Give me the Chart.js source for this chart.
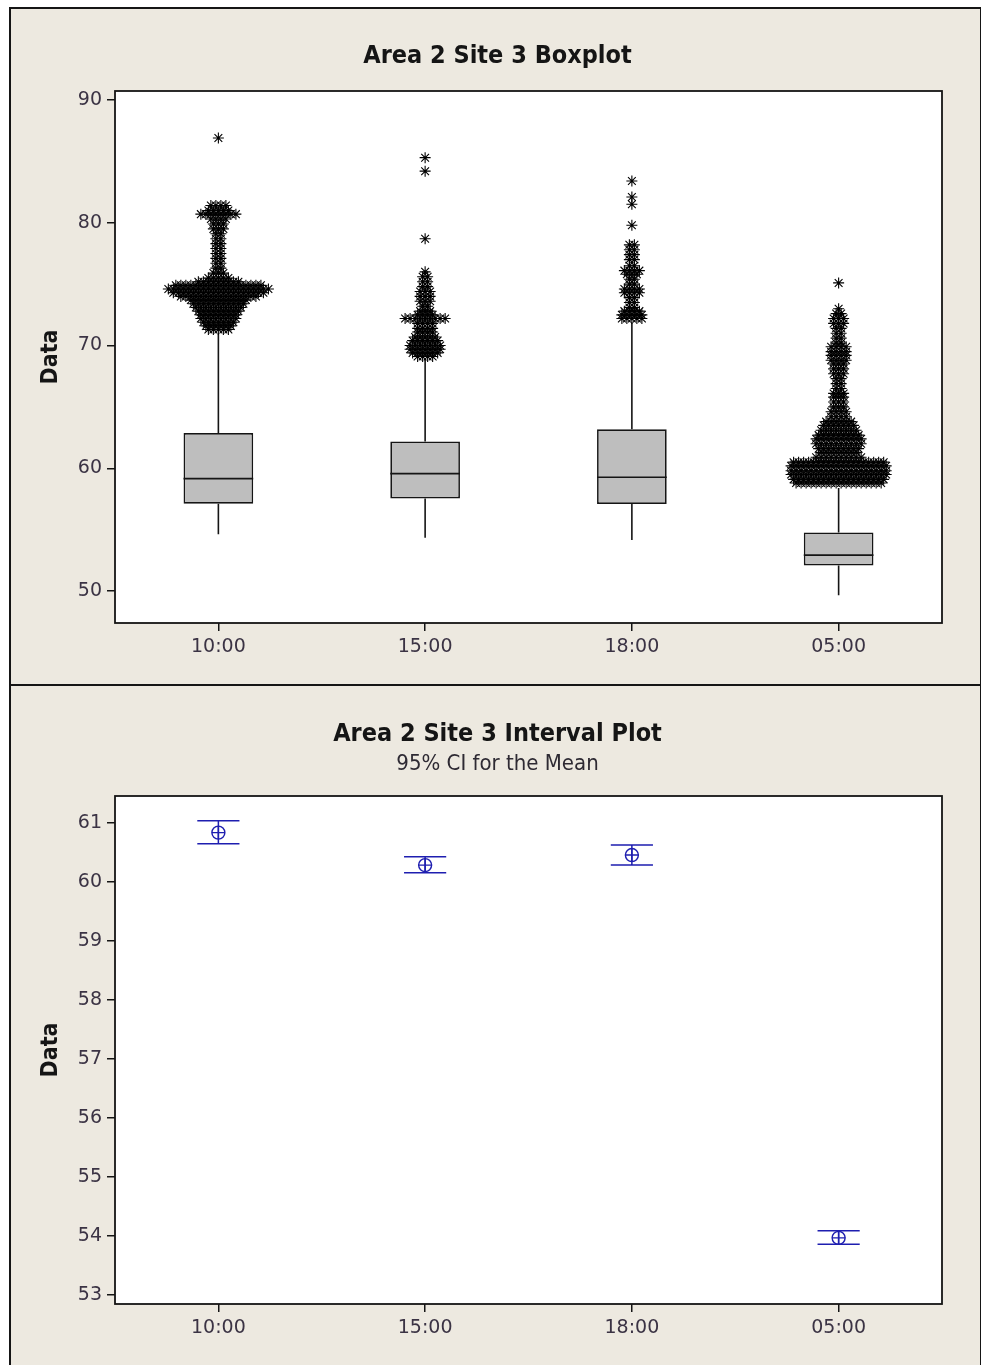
<!DOCTYPE html>
<html><head><meta charset="utf-8">
<script src="https://cdn.jsdelivr.net/npm/chart.js@4.4.1/dist/chart.umd.min.js"></script>
<style>
html,body{margin:0;padding:0;background:#fff;}
body{width:981px;height:1365px;position:relative;overflow:hidden;}
.panel{position:absolute;background:#EDE9E0;box-sizing:border-box;border:2px solid #151515;}
canvas{position:absolute;}
</style></head><body>
<div class="panel" style="left:9px;top:7px;width:973px;height:679px;"></div>
<div class="panel" style="left:9px;top:684px;width:973px;height:700px;"></div>
<canvas id="box" width="970" height="676" style="left:10px;top:8px;"></canvas>
<canvas id="ci" width="970" height="679" style="left:10px;top:686px;"></canvas>
<script>
// ---------- data ----------
const categories = ['10:00', '15:00', '18:00', '05:00'];

// boxplot summary
const q1          = [57.12, 57.55, 57.09, 52.09];
const median      = [59.16, 59.57, 59.27, 52.93];
const q3          = [62.88, 62.18, 63.18, 54.78];
const whiskerLow  = [54.62, 54.35, 54.16, 49.65];
const whiskerHigh = [71.0, 68.9, 71.9, 58.4];
const boxTicks = [50, 60, 70, 80, 90];
const boxYMin = 47.4, boxYMax = 90.73;

// outliers: value and number of coincident observations (stacked side by side)
const outVal_1000 = [86.9, 81.4, 81.0, 80.7, 80.3, 79.9, 79.5, 79.1, 78.7, 78.3, 77.9, 77.5, 77.1, 76.7, 76.3, 75.9, 75.5, 75.2, 74.9, 74.6, 74.3, 74.0, 73.7, 73.4, 73.1, 72.8, 72.5, 72.2, 71.9, 71.6, 71.3];
const outCnt_1000 = [1, 4, 5, 8, 4, 3, 3, 2, 2, 2, 2, 2, 2, 2, 2, 3, 5, 9, 18, 21, 19, 16, 12, 11, 10, 9, 8, 8, 7, 6, 5];
const outVal_1500 = [85.3, 84.2, 78.7, 76.0, 75.6, 75.2, 74.8, 74.4, 74.0, 73.6, 73.2, 72.8, 72.5, 72.2, 71.8, 71.4, 71.1, 70.7, 70.4, 70.0, 69.7, 69.4, 69.1];
const outCnt_1500 = [1, 1, 1, 1, 2, 2, 2, 3, 3, 3, 2, 3, 4, 9, 4, 4, 4, 5, 6, 7, 7, 6, 4];
const outVal_1800 = [83.4, 82.1, 81.5, 79.8, 78.2, 77.8, 77.4, 77.0, 76.5, 76.1, 75.8, 75.4, 75.0, 74.6, 74.3, 73.9, 73.5, 73.1, 72.8, 72.5, 72.2];
const outCnt_1800 = [1, 1, 1, 1, 2, 2, 2, 2, 2, 4, 3, 2, 2, 4, 4, 2, 2, 2, 4, 5, 5];
const outVal_0500 = [75.1, 73.0, 72.6, 72.2, 71.8, 71.4, 71.0, 70.6, 70.2, 69.9, 69.5, 69.2, 68.8, 68.5, 68.1, 67.7, 67.3, 66.9, 66.5, 66.1, 65.8, 65.4, 65.0, 64.6, 64.2, 63.8, 63.5, 63.1, 62.7, 62.4, 62.0, 61.6, 61.3, 60.9, 60.5, 60.2, 59.8, 59.5, 59.1, 58.8];
const outCnt_0500 = [1, 1, 2, 3, 3, 2, 2, 2, 2, 4, 4, 4, 4, 3, 3, 3, 2, 2, 2, 3, 3, 3, 3, 4, 4, 6, 7, 8, 9, 10, 10, 9, 8, 10, 19, 20, 20, 20, 19, 18];

// interval plot (95% CI for the mean)
const meanVal = [60.83, 60.28, 60.45, 53.97];
const ciLow   = [60.64, 60.15, 60.28, 53.86];
const ciHigh  = [61.03, 60.42, 60.62, 54.09];
const ciTicks = [53, 54, 55, 56, 57, 58, 59, 60, 61];
const ciYMin = 52.85, ciYMax = 61.45;

// ---------- styling ----------
const tickFont = {family: "'DejaVu Sans', sans-serif", size: 19};
const tickColor = '#3b3344';
const boldFamily = "'DejaVu Sans Condensed', 'DejaVu Sans', sans-serif";
const ink = '#151515';
const blue = '#1E1EB0';
const stackStep = 0.0242; // horizontal spacing of coincident outliers (category units)

function stackPoints(index, values, counts) {
  const pts = [];
  values.forEach((v, k) => {
    const n = counts[k];
    for (let j = 0; j < n; j++) pts.push({x: index + (j - (n - 1) / 2) * stackStep, y: v});
  });
  return pts;
}
const outlierPoints = [].concat(
  stackPoints(0, outVal_1000, outCnt_1000),
  stackPoints(1, outVal_1500, outCnt_1500),
  stackPoints(2, outVal_1800, outCnt_1800),
  stackPoints(3, outVal_0500, outCnt_0500)
);

const framePlugin = {
  id: 'frame',
  beforeDraw(chart) {
    const {ctx, chartArea: a} = chart;
    ctx.save(); ctx.fillStyle = '#fff';
    ctx.fillRect(a.left, a.top, a.right - a.left, a.bottom - a.top);
    ctx.restore();
  },
  afterDraw(chart) {
    const {ctx, chartArea: a} = chart;
    ctx.save(); ctx.strokeStyle = ink; ctx.lineWidth = 1.8;
    ctx.strokeRect(a.left, a.top, a.right - a.left, a.bottom - a.top);
    ctx.restore();
  }
};

const boxPartsPlugin = {
  id: 'boxParts',
  beforeDatasetsDraw(chart) {
    const x = chart.scales.x, y = chart.scales.y, ctx = chart.ctx;
    ctx.save(); ctx.strokeStyle = ink; ctx.lineWidth = 1.6;
    categories.forEach((c, i) => {
      const px = x.getPixelForValue(i);
      ctx.beginPath();
      ctx.moveTo(px, y.getPixelForValue(q3[i])); ctx.lineTo(px, y.getPixelForValue(whiskerHigh[i]));
      ctx.moveTo(px, y.getPixelForValue(q1[i])); ctx.lineTo(px, y.getPixelForValue(whiskerLow[i]));
      ctx.stroke();
    });
    ctx.restore();
  },
  afterDatasetsDraw(chart) {
    const y = chart.scales.y, ctx = chart.ctx;
    const meta = chart.getDatasetMeta(1);
    ctx.save(); ctx.strokeStyle = ink; ctx.lineWidth = 1.7;
    meta.data.forEach((bar, i) => {
      const py = y.getPixelForValue(median[i]);
      ctx.beginPath();
      ctx.moveTo(bar.x - bar.width / 2, py); ctx.lineTo(bar.x + bar.width / 2, py);
      ctx.stroke();
    });
    ctx.restore();
  }
};

const ciPlugin = {
  id: 'ciBars',
  beforeDatasetsDraw(chart) {
    const x = chart.scales.x, y = chart.scales.y, ctx = chart.ctx;
    const slot = x.getPixelForValue(1) - x.getPixelForValue(0);
    const half = slot * 0.102;
    ctx.save(); ctx.strokeStyle = blue; ctx.lineWidth = 1.5;
    categories.forEach((c, i) => {
      const px = x.getPixelForValue(i);
      const top = y.getPixelForValue(ciHigh[i]), bot = y.getPixelForValue(ciLow[i]);
      ctx.beginPath();
      ctx.moveTo(px, top); ctx.lineTo(px, bot);
      ctx.moveTo(px - half, top); ctx.lineTo(px + half, top);
      ctx.moveTo(px - half, bot); ctx.lineTo(px + half, bot);
      ctx.stroke();
    });
    ctx.restore();
  }
};

function xAxis() {
  return {
    type: 'category', labels: categories, offset: true,
    grid: {display: true, offset: false, drawOnChartArea: false, drawTicks: true, tickLength: 8, color: ink, lineWidth: 1.5},
    border: {display: false},
    ticks: {color: tickColor, font: tickFont, padding: 5, maxRotation: 0, autoSkip: false},
    afterFit(s) { s.height = 61; }
  };
}
function yAxis(min, max, tickList) {
  return {
    type: 'linear', position: 'left', min: min, max: max,
    afterBuildTicks(s) { s.ticks = tickList.map(v => ({value: v})); },
    grid: {display: true, drawOnChartArea: false, drawTicks: true, tickLength: 8, color: ink, lineWidth: 1.5},
    border: {display: false},
    ticks: {color: tickColor, font: tickFont, padding: 5},
    title: {display: true, text: 'Data', color: ink, font: {family: boldFamily, weight: 'bold', size: 23}, padding: {top: 22, bottom: 0}},
    afterFit(s) { s.width = 100; }
  };
}
const rightSpacer = {
  type: 'linear', position: 'right', display: true,
  ticks: {display: false}, grid: {display: false}, border: {display: false},
  afterFit(s) { s.width = 38; }
};

new Chart(document.getElementById('box'), {
  type: 'bar',
  data: {
    labels: categories,
    datasets: [
      {
        type: 'scatter', data: outlierPoints, xAxisID: 'xs', yAxisID: 'y', order: 0,
        pointStyle: 'star', pointRadius: 5.5, pointBorderWidth: 1.1,
        borderColor: '#000', backgroundColor: '#000', showLine: false
      },
      {
        type: 'bar', data: categories.map((c, i) => [q1[i], q3[i]]), xAxisID: 'x', yAxisID: 'y', order: 1,
        backgroundColor: '#BEBEBE', borderColor: ink, borderWidth: 1.7, borderSkipped: false,
        barPercentage: 0.337, categoryPercentage: 1, grouped: false
      }
    ]
  },
  options: {
    responsive: false, animation: false,
    layout: {padding: {left: 5, right: 0, top: 0, bottom: 0}},
    plugins: {
      legend: {display: false}, tooltip: {enabled: false},
      title: {display: true, text: 'Area 2 Site 3 Boxplot', color: ink,
        font: {family: boldFamily, weight: 'bold', size: 25, lineHeight: 1}, padding: {top: 35.5, bottom: 22.5}}
    },
    scales: {
      x: xAxis(),
      xs: {type: 'linear', min: -0.5, max: 3.5, display: false, offset: false, grid: {offset: false}},
      y: yAxis(boxYMin, boxYMax, boxTicks),
      yr: rightSpacer
    }
  },
  plugins: [framePlugin, boxPartsPlugin]
});

new Chart(document.getElementById('ci'), {
  type: 'line',
  data: {
    labels: categories,
    datasets: [
      {data: meanVal, showLine: false, pointStyle: 'circle', pointRadius: 6.5, pointBorderWidth: 1.4,
        borderColor: blue, backgroundColor: 'rgba(0,0,0,0)', yAxisID: 'y'},
      {data: meanVal, showLine: false, pointStyle: 'cross', pointRadius: 6.5, pointBorderWidth: 1.4,
        borderColor: blue, backgroundColor: blue, yAxisID: 'y'}
    ]
  },
  options: {
    responsive: false, animation: false,
    layout: {padding: {left: 5, right: 0, top: 0, bottom: 0}},
    plugins: {
      legend: {display: false}, tooltip: {enabled: false},
      title: {display: true, text: 'Area 2 Site 3 Interval Plot', color: ink,
        font: {family: boldFamily, weight: 'bold', size: 25, lineHeight: 1}, padding: {top: 35.5, bottom: 0}},
      subtitle: {display: true, text: '95% CI for the Mean', color: '#2e2a33',
        font: {family: "'DejaVu Sans Condensed', 'DejaVu Sans', sans-serif", size: 22, lineHeight: 1}, padding: {top: 6.5, bottom: 21}}
    },
    scales: {
      x: xAxis(),
      y: yAxis(ciYMin, ciYMax, ciTicks),
      yr: rightSpacer
    }
  },
  plugins: [framePlugin, ciPlugin]
});
</script>
</body></html>
